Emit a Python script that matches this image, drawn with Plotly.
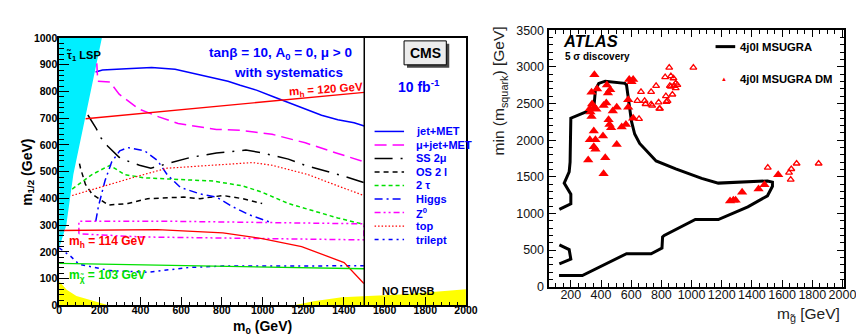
import plotly.graph_objects as go

W, H = 864, 336
FONT = "Liberation Sans, Arial, Helvetica, sans-serif"


def px(x):
    return x / W


def py(y):
    return 1 - y / H


# ---------------- Left panel (CMS, m0 vs m1/2) ----------------
lsp_m0 = [0, 210, 70, 35, 0]
lsp_m12 = [1000, 1000, 490, 300, 215]
ewsb_left_m0 = [0, 0, 37, 85, 166, 246]
ewsb_left_m12 = [0, 90, 58, 35, 17, 0]
ewsb_right_m0 = [1150, 1250, 1390, 1500, 1700, 2000, 2000]
ewsb_right_m12 = [0, 15, 30, 35, 42, 60, 0]

jetmet_m0 = [179, 213, 330, 455, 570, 670, 730, 830, 890, 970, 1050, 1130, 1210, 1290, 1370, 1450, 1500]
jetmet_m12 = [873, 880, 885, 890, 883, 865, 855, 838, 823, 805, 781, 758, 734, 711, 694, 683, 671]

mujet_m0 = [185, 190, 250, 295, 390, 490, 585, 680, 773, 890, 1047, 1210, 1288, 1370, 1500]
mujet_m12 = [905, 838, 835, 790, 735, 705, 680, 668, 658, 655, 640, 608, 588, 568, 537]

ss2mu_m0 = [141, 182, 206, 238, 295, 346, 395, 451, 531, 644, 773, 918, 998, 1127, 1208, 1300, 1401, 1498]
ss2mu_m12 = [712, 662, 626, 596, 554, 537, 524, 513, 530, 553, 570, 581, 570, 547, 524, 505, 483, 459]

os2l_m0 = [100, 105, 129, 161, 242, 338, 435, 531, 612, 692, 805, 902, 998]
os2l_m12 = [530, 513, 453, 417, 375, 381, 399, 403, 405, 399, 411, 399, 381]

tau2_m0 = [64, 161, 250, 322, 419, 580, 757, 902, 998, 1127, 1256, 1369, 1498]
tau2_m12 = [435, 489, 524, 489, 477, 471, 465, 447, 423, 381, 351, 327, 303]

higgs_m0 = [180, 193, 225, 258, 298, 338, 420, 483, 531, 596, 692, 773, 853, 934, 1031]
higgs_m12 = [315, 370, 465, 536, 578, 590, 578, 542, 489, 441, 417, 405, 369, 339, 313]

z0_m0 = [97, 97, 500, 1000, 1498, 1498, 1000, 400, 97]
z0_m12 = [268, 315, 315, 310, 305, 245, 250, 256, 268]

top_m0 = [64, 193, 386, 531, 725, 950, 1047, 1224, 1369, 1498]
top_m12 = [411, 441, 483, 513, 524, 534, 524, 489, 447, 411]

trilept_m0 = [0, 56, 97, 250, 435, 644, 805, 1498]
trilept_m12 = [215, 184, 154, 130, 124, 142, 147, 148]

mh114_m0 = [0, 483, 805, 998, 1192, 1401, 1498]
mh114_m12 = [280, 283, 271, 250, 220, 160, 82]

mchi103_m0 = [0, 800, 1500]
mchi103_m12 = [157, 146, 137]

mh120_m0 = [130, 1500]
mh120_m12 = [698, 797]

legend_labels = ["jet+MET", "μ+jet+MET", "SS 2μ", "OS 2 l", "2 τ", "Higgs",
                 "Z<sup>0</sup>", "top", "trilept"]

left_xticks = list(range(0, 2001, 200))
left_yticks = list(range(0, 1001, 100))

# ---------------- Right panel (ATLAS) ----------------
contour_mg = [124, 200, 200, 156, 189, 195, 200, 352, 363, 385, 428, 558, 569, 602, 623, 656, 765,
              895, 1067, 1177, 1503, 1536, 1536, 1503, 1373, 1177, 1025, 917, 819, 808, 804, 732,
              569, 276, 122, None, 124, 189, 200, 124]
contour_msq = [1055, 1132, 1262, 1414, 1566, 1700, 2300, 2430, 2689, 2776, 2806, 2776, 2754, 2257,
               2084, 1955, 1716, 1608, 1478, 1414, 1444, 1427, 1371, 1241, 1090, 917, 917, 808, 700,
               679, 528, 450, 450, 152, 152, None, 571, 506, 376, 311]

dm_filled_mg = [356, 337, 374, 341, 326, 352, 369, 330, 337, 439, 446, 435, 417, 450, 456, 467, 478,
                504, 352, 326, 363, 352, 363, 413, 504, 428, 315, 417, 537, 565, 580, 587, 613, 602,
                461, 580, 613, 1574, 1483, 1444, 1335, 1277, 1255, 1292]
dm_filled_msq = [2892, 2655, 2698, 2494, 2430, 2442, 2421, 2386, 2322, 2754, 2646, 2507, 2473, 2279,
                 2214, 2170, 2399, 2451, 2127, 2006, 2006, 1911, 1877, 2058, 1942, 1760, 1729, 1543,
                 2179, 2214, 2451, 2827, 2827, 2797, 2689, 2551, 2300, 1529, 1390, 1332, 1289, 1181,
                 1171, 1181]

dm_open_mg = [665, 652, 641, 689, 695, 732, 739, 782, 786, 732, 765, 825, 852, 863, 880, 856, 884, 830,
              841, 873, 906, 863, 895, 895, 834, 791, 1012, 1505, 1661, 1696, 1842, 1646, 1657]
dm_open_msq = [2659, 2292, 2538, 2538, 2494, 2490, 2473, 2516, 2430, 2659, 2741, 2862, 2990, 2875, 2846,
               2741, 2741, 2603, 2538, 2624, 2754, 2732, 2776, 2711, 2525, 2430, 2991, 1626, 1607,
               1682, 1682, 1556, 1463]

right_xticks = list(range(200, 2001, 200))
right_yticks = list(range(0, 3501, 500))

# ---------------- Figure ----------------
fig = go.Figure()


def region(xs, ys, color):
    fig.add_trace(go.Scatter(x=xs, y=ys, fill="toself", fillcolor=color, mode="lines",
                             line=dict(width=0, color=color), hoverinfo="skip",
                             showlegend=False, xaxis="x", yaxis="y"))


region(lsp_m0, lsp_m12, "#00efff")
region(ewsb_left_m0, ewsb_left_m12, "#ffff00")
region(ewsb_right_m0, ewsb_right_m12, "#ffff00")

BLUE, MAG, RED, GREEN = "#0000ff", "#ff00ff", "#ff0000", "#00e000"

curves = [
    (jetmet_m0, jetmet_m12, BLUE, "solid", 1.5),
    (mujet_m0, mujet_m12, MAG, "12px,6px", 1.5),
    (ss2mu_m0, ss2mu_m12, "black", "18px,8px,2px,8px", 1.5),
    (os2l_m0, os2l_m12, "black", "5px,4px", 1.5),
    (tau2_m0, tau2_m12, GREEN, "4px,3px", 1.5),
    (higgs_m0, higgs_m12, BLUE, "8px,4px,2px,4px", 1.5),
    (z0_m0, z0_m12, MAG, "6px,3px,2px,3px,2px,3px", 1.5),
    (top_m0, top_m12, RED, "1.5px,2px", 1.2),
    (trilept_m0, trilept_m12, BLUE, "4px,4px,2px,4px", 1.5),
]
for xs, ys, c, d, w in curves:
    fig.add_trace(go.Scatter(x=xs, y=ys, mode="lines", line=dict(color=c, dash=d, width=w),
                             showlegend=False, hoverinfo="skip", xaxis="x", yaxis="y"))

for xs, ys, c in [(mh114_m0, mh114_m12, RED), (mchi103_m0, mchi103_m12, GREEN),
                  (mh120_m0, mh120_m12, RED)]:
    fig.add_trace(go.Scatter(x=xs, y=ys, mode="lines", line=dict(color=c, width=1.3),
                             showlegend=False, hoverinfo="skip", xaxis="x", yaxis="y"))

# right panel
fig.add_trace(go.Scatter(x=contour_mg, y=contour_msq, mode="lines", connectgaps=False,
                         line=dict(color="black", width=3), showlegend=False,
                         hoverinfo="skip", xaxis="x2", yaxis="y2"))
fig.add_trace(go.Scatter(x=dm_open_mg, y=dm_open_msq, mode="markers",
                         marker=dict(symbol="triangle-up-open", size=6, color=RED,
                                     line=dict(width=1.3, color=RED)),
                         showlegend=False, hoverinfo="skip", xaxis="x2", yaxis="y2"))
fig.add_trace(go.Scatter(x=dm_filled_mg, y=dm_filled_msq, mode="markers",
                         marker=dict(symbol="triangle-up", size=9, color=RED),
                         showlegend=False, hoverinfo="skip", xaxis="x2", yaxis="y2"))

# ---------------- Axes ----------------
lfont = dict(family=FONT, size=10.5, color="black", weight="bold")
rfont = dict(family=FONT, size=12.5, color="#111111")

fig.update_layout(
    width=W, height=H, margin=dict(l=0, r=0, t=0, b=0),
    paper_bgcolor="white", plot_bgcolor="white", showlegend=False,
    xaxis=dict(domain=[px(49), px(463)], range=[0, 2000], tickvals=left_xticks,
               ticks="inside", ticklen=9, tickwidth=1, tickcolor="black",
               minor=dict(dtick=40, tick0=0, ticks="inside", ticklen=4, tickcolor="black"),
               showline=True, linecolor="black", linewidth=1.5, mirror=True,
               showgrid=False, zeroline=False, tickfont=lfont, anchor="y",
               ticklabelstandoff=-6),
    yaxis=dict(domain=[py(303), py(24)], range=[0, 1000], tickvals=left_yticks,
               ticks="inside", ticklen=10, tickwidth=1, tickcolor="black",
               minor=dict(dtick=20, tick0=0, ticks="inside", ticklen=5, tickcolor="black"),
               showline=True, linecolor="black", linewidth=1.5, mirror=True,
               showgrid=False, zeroline=False, tickfont=lfont, anchor="x",
               ticklabelstandoff=-2),
    xaxis2=dict(domain=[px(547), px(848)], range=[52, 2012], tickvals=right_xticks,
                ticks="inside", ticklen=7, tickwidth=1, tickcolor="black",
                minor=dict(dtick=50, tick0=0, ticks="inside", ticklen=4, tickcolor="black"),
                showline=True, linecolor="black", linewidth=2, mirror="ticks",
                showgrid=False, zeroline=False, tickfont=rfont, anchor="y2",
                ticklabelstandoff=-5),
    yaxis2=dict(domain=[py(283.5), py(16)], range=[0, 3500], tickvals=right_yticks,
                ticks="inside", ticklen=7, tickwidth=1, tickcolor="black",
                minor=dict(dtick=100, tick0=0, ticks="inside", ticklen=4, tickcolor="black"),
                showline=True, linecolor="black", linewidth=2, mirror="ticks",
                showgrid=False, zeroline=False, tickfont=rfont, anchor="x2"),
)

shapes = []
# m0 = 1500 divider
shapes.append(dict(type="line", xref="x", yref="y domain", x0=1500, x1=1500, y0=0, y1=1,
                   line=dict(color="black", width=1.5), layer="above"))
# CMS box with shadow
shapes.append(dict(type="rect", xref="paper", yref="paper", x0=px(403), x1=px(446),
                   y0=py(55), y1=py(30), fillcolor="#444444", line=dict(width=0)))
shapes.append(dict(type="rect", xref="paper", yref="paper", x0=px(400), x1=px(443),
                   y0=py(52), y1=py(27), fillcolor="#ececec", line=dict(color="black", width=1)))

annotations = []


def ann(text, x, y, size, color="black", xanchor="center", yanchor="middle", angle=0,
        weight="bold", style="normal"):
    annotations.append(dict(text=text, x=px(x), y=py(y), xref="paper", yref="paper",
                            showarrow=False, xanchor=xanchor, yanchor=yanchor, textangle=angle,
                            font=dict(family=FONT, size=size, color=color, weight=weight,
                                      style=style)))


# left panel legend (manual, ROOT-style inside the plot)
leg_styles = [(c, d, w) for _, _, c, d, w in curves]
for i, (lab, (c, d, w)) in enumerate(zip(legend_labels, leg_styles)):
    ypix = 121.5 + 14.1 * i
    shapes.append(dict(type="line", xref="paper", yref="paper", x0=px(370), x1=px(400),
                       y0=py(ypix), y1=py(ypix), line=dict(color=c, dash=d, width=w)))
    ann(lab, 410, ypix, 11, BLUE, xanchor="left")

ann("tanβ = 10, A<sub>0</sub> = 0, μ &gt; 0", 274, 40, 13.5, BLUE)
ann("with systematics", 282, 60, 13.5, BLUE)
ann("m<sub>h</sub> = 120 GeV", 321, 78, 11.5, RED, angle=-4)
ann("CMS", 421.5, 39.5, 14)
ann("10 fb<sup>-1</sup>", 415, 74, 14, BLUE)
ann("τ̃<sub>1</sub> LSP", 55, 43, 11, xanchor="left")
ann("m<sub>h</sub> = 114 GeV", 57, 237, 12, RED, xanchor="left")
ann("m<sub>χ̃</sub> = 103 GeV", 57, 272, 12, GREEN, xanchor="left")
ann("NO EWSB", 405, 288, 11)
ann("m<sub>1/2</sub> (GeV)", 17, 164, 14, angle=-90)
ann("m<sub>0</sub> (GeV)", 256, 326, 14)

# right panel texts
ann("ATLAS", 560, 27, 16.5, xanchor="left", style="italic")
ann("5 σ discovery", 562, 43, 10, xanchor="left")
shapes.append(dict(type="line", xref="paper", yref="paper", x0=px(717), x1=px(737),
                   y0=py(33), y1=py(33), line=dict(color="black", width=3)))
ann("4j0l MSUGRA", 740, 33, 11.3, xanchor="left")
ann("▲", 726, 67, 6, RED, weight="normal")
ann("4j0l MSUGRA DM", 740, 67, 11.3, xanchor="left")
ann("min (m<sub>squark</sub>) [GeV]", 497, 10, 15.5, "#222222", yanchor="top", angle=-90,
    weight="normal")
ann("m<sub>g̃</sub> [GeV]", 846, 312, 15.5, "#222222", xanchor="right", weight="normal")

fig.update_layout(shapes=shapes, annotations=annotations)

fig.write_html("out.html")
